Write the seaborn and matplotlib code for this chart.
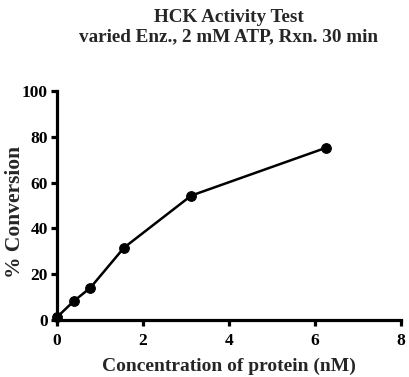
import matplotlib
matplotlib.use("Agg")
import matplotlib.pyplot as plt
import pandas as pd
import seaborn as sns

# protein concentration (nM) and % conversion
conc = [0, 0.39, 0.78, 1.5625, 3.125, 6.25]
conversion = [1.2, 8.2, 14.1, 31.6, 54.3, 75.1]

df = pd.DataFrame({"conc": conc, "conversion": conversion})

sns.set_theme(style="ticks")
plt.rcParams["font.family"] = ["Liberation Serif", "DejaVu Serif"]
plt.rcParams["font.weight"] = "bold"

fig = plt.figure(figsize=(4.09, 3.77), dpi=100)
ax = fig.add_axes([0.139, 0.151, 0.841, 0.608])

sns.lineplot(data=df, x="conc", y="conversion", ax=ax, color="black",
             linewidth=1.8, marker="o", markersize=7, markeredgecolor="black",
             clip_on=False)

ax.set_xlim(0, 8)
ax.set_ylim(0, 100)
ax.set_xticks([0, 2, 4, 6, 8])
ax.set_yticks([0, 20, 40, 60, 80, 100])

sns.despine(ax=ax)
for s in ["left", "bottom"]:
    ax.spines[s].set_linewidth(2.3)
    ax.spines[s].set_color("black")
ax.tick_params(width=2.3, length=4.5, color="black", labelsize=12.5,
               labelcolor="black")
ax.tick_params(axis="x", pad=5)
ax.tick_params(axis="y", pad=2)
for lbl in ax.get_xticklabels() + ax.get_yticklabels():
    lbl.set_fontweight("bold")

ax.set_xlabel("Concentration of protein (nM)", fontsize=14, fontweight="bold")
ax.set_ylabel("% Conversion", fontsize=15.5, fontweight="bold")
ax.xaxis.set_label_coords(0.5, -0.165)
ax.yaxis.set_label_coords(-0.094, 0.47)

fig.text(0.559, 0.879, "HCK Activity Test\nvaried Enz., 2 mM ATP, Rxn. 30 min",
         ha="center", va="bottom", fontsize=13.8, fontweight="bold",
         linespacing=1.2, multialignment="center")

fig.savefig("out.png", dpi=100)
